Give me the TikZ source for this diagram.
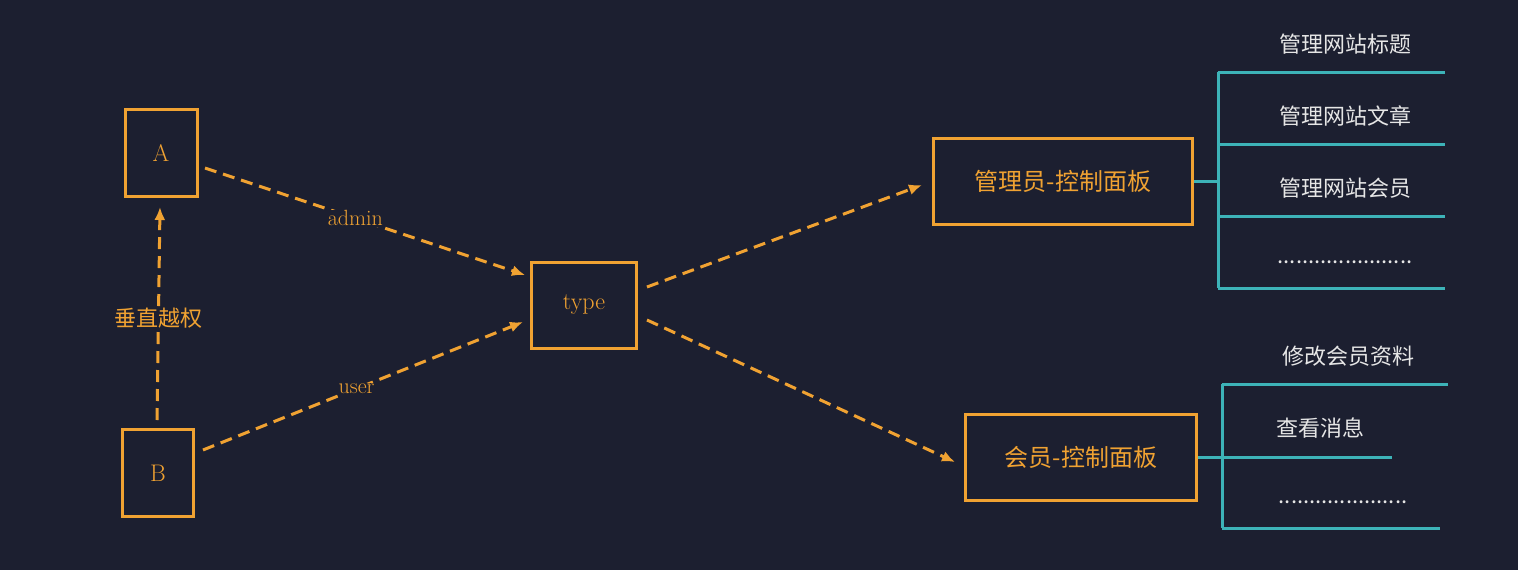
\documentclass[tikz,border=0pt]{standalone}
\usepackage{fontspec}
\newfontfamily\cjk{Noto Sans CJK SC}
\usetikzlibrary{arrows.meta}
\definecolor{bg}{HTML}{1C1F30}
\definecolor{og}{HTML}{F0A232}
\definecolor{tl}{HTML}{3DB3B8}
\definecolor{tx}{HTML}{E6E6E6}
\begin{document}
\begin{tikzpicture}[x=1pt,y=-1pt,
 box/.style={draw=og,line width=3pt,text=og,inner sep=0pt,font=\cjk\fontsize{24}{28}\selectfont},
 arr/.style={draw=og,line width=3pt,dash pattern=on 12pt off 7pt,-{Latex[length=13pt,width=11pt]}},
 lbl/.style={text=og,fill=bg,inner sep=1pt,font=\fontsize{22}{26}\selectfont},
 tree/.style={draw=tl,line width=3pt},
 item/.style={text=tx,font=\cjk\fontsize{22}{26}\selectfont}]
\fill[bg] (0,0) rectangle (1518,570);
\useasboundingbox (0,0) rectangle (1518,570);
\node[box,minimum width=72,minimum height=87] (A) at (161,153) {\rmfamily A};
\node[box,minimum width=71,minimum height=87] (B) at (158,473) {\rmfamily B};
\node[box,minimum width=105,minimum height=86] (T) at (584,305) {\rmfamily type};
\node[box,minimum width=259,minimum height=86] (P1) at (1063,181) {管理员-控制面板};
\node[box,minimum width=231,minimum height=86] (P2) at (1081,457) {会员-控制面板};
\coordinate (a1) at (205,168); \coordinate (a2) at (525,275);
\coordinate (b1) at (203,450); \coordinate (b2) at (523,322);
\coordinate (c1) at (157,420); \coordinate (c2) at (160,207);
\coordinate (t1) at (647,287); \coordinate (t2) at (922,185);
\coordinate (t3) at (647,320); \coordinate (t4) at (955,462);
\draw[arr] (a1) -- node[lbl,pos=0.47]{admin} (a2);
\draw[arr] (b1) -- node[lbl,pos=0.48]{user} (b2);
\draw[arr] (c1) -- node[lbl,pos=0.48,font=\cjk\fontsize{22}{26}\selectfont]{垂直越权} (c2);
\draw[arr] (t1) -- (t2);
\draw[arr] (t3) -- (t4);
% admin tree
\draw[tree] (P1.east) -- (1218,181);
\draw[tree] (1218,72) -- (1218,288);
\foreach \y in {72,144,216,288} \draw[tree] (1218,\y) -- (1445,\y);
\node[item] (i1) at (1345,44) {管理网站标题};
\node[item] (i2) at (1345,116) {管理网站文章};
\node[item] (i3) at (1345,188) {管理网站会员};
\node[item] (i4) at (1345,262) {......................};
% member tree
\draw[tree] (P2.east) -- (1222,457);
\draw[tree] (1222,384) -- (1222,528);
\draw[tree] (1222,384) -- (1448,384);
\draw[tree] (1222,457) -- (1392,457);
\draw[tree] (1222,528) -- (1440,528);
\node[item] (j1) at (1348,356) {修改会员资料};
\node[item] (j2) at (1320,428) {查看消息};
\node[item] (j3) at (1343,502) {.....................};
\end{tikzpicture}
\end{document}
